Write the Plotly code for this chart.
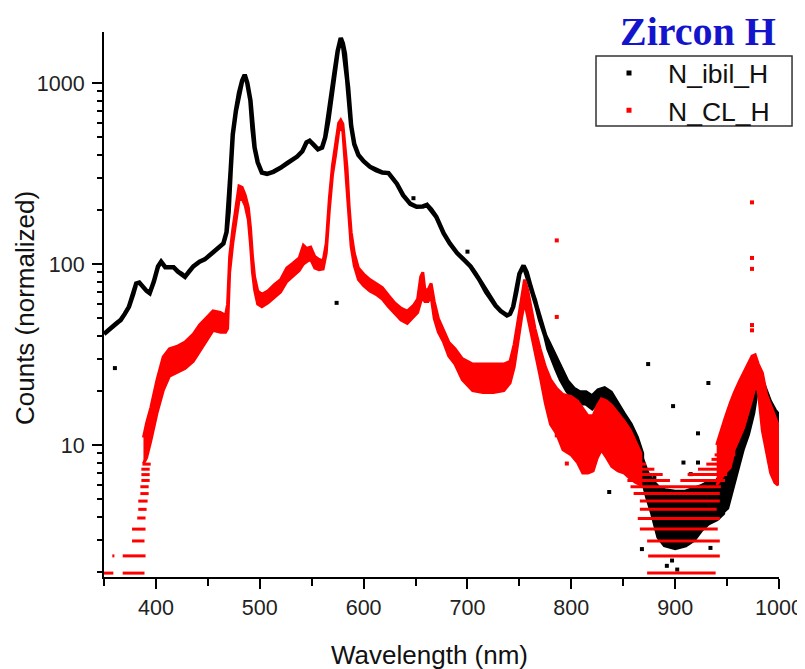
import plotly.graph_objects as go

# ---------------- data ----------------
# N_ibil_H (black): wavelength, upper and lower extent of the plotted points
ibil_wl = [350, 354, 358, 362, 366, 370, 374, 378, 381, 384, 387, 391, 394, 398, 402, 405, 409, 413, 417,
           421, 425, 428, 432, 436, 442, 447, 452, 458, 465, 468, 470, 472, 474, 477, 480, 483, 485.5, 488,
           491, 493, 495, 498, 502, 507, 513, 520, 526, 531, 536, 541, 545, 548, 552, 556, 560, 563, 566,
           569, 572, 575, 578, 580, 582, 585, 588, 591, 595, 600, 606, 612, 618, 624, 628, 632, 638, 645,
           651, 657, 661, 665, 670, 677, 683, 690, 697, 703, 708, 712, 718, 722, 727, 732, 738, 741, 744,
           747, 750, 754, 757, 760, 765, 770, 775,
           778, 782, 786, 790, 796, 802, 808, 814, 820, 826, 832, 838, 844, 850, 857, 863, 868]
ibil_hi = [41, 43, 45, 47, 49, 53, 58, 68, 78, 79, 75, 71, 69, 80, 97, 103, 96, 96, 96,
           91, 88, 85, 91, 97, 103, 106, 112, 121, 130, 150, 195, 330, 520, 700, 880, 1030, 1110, 1000,
           800, 560, 440, 365, 320, 315, 323, 340, 360, 378, 392, 420, 470, 480, 455, 430, 440, 500, 620,
           850, 1150, 1500, 1770, 1650, 1450, 950, 580, 460, 400, 370, 345, 330, 320, 318, 300, 278, 240, 215,
           207, 208, 212, 200, 182, 148, 130, 115, 105, 97, 88, 81, 70, 65, 59, 55, 52, 53, 58,
           70, 88, 98, 90, 78, 63, 49, 40,
           37, 33, 29, 26, 22.5, 20.5, 19.5, 19.5, 18.5, 20, 20.5, 19.5, 17, 15, 13, 11, 9]
ibil_lo = [41, 43, 45, 47, 49, 53, 58, 68, 78, 79, 75, 71, 69, 80, 97, 103, 96, 96, 96,
           91, 88, 85, 91, 97, 103, 106, 112, 121, 130, 150, 195, 330, 520, 700, 880, 1030, 1110, 1000,
           800, 560, 440, 365, 320, 315, 323, 340, 360, 378, 392, 420, 470, 480, 455, 430, 440, 500, 620,
           850, 1150, 1500, 1770, 1650, 1450, 950, 580, 460, 400, 370, 345, 330, 320, 318, 300, 278, 240, 215,
           207, 208, 212, 200, 182, 148, 130, 115, 105, 97, 88, 81, 70, 65, 59, 55, 52, 53, 58,
           70, 88, 98, 90, 78, 63, 49, 40,
           34, 29.5, 26, 23, 20, 18, 17, 17, 16, 17.5, 18, 17, 15, 13, 11, 9, 7.5]
# the scattered cloud of black points near the minimum
ibil_cloud_wl = [866, 873, 878, 884, 890, 900, 910, 918, 925, 932, 940, 946]
ibil_cloud_hi = [9, 7, 6.3, 5.8, 5.6, 5.5, 5.5, 5.7, 5.9, 6.2, 6.3, 7]
ibil_cloud_lo = [7.5, 5.2, 4.2, 3.1, 2.8, 2.7, 2.8, 3.0, 3.4, 3.7, 3.9, 4.2]
# the last peak
ibil_tail_wl = [944, 950, 955, 960, 965, 970, 975, 979, 982, 986, 991, 996, 1000]
ibil_tail_hi = [7, 8, 9.5, 11, 13.5, 16, 20, 26, 24, 21, 17.5, 15.5, 14.5]
ibil_tail_lo = [4.2, 4.5, 6, 7.5, 9.5, 11.5, 15, 21, 19, 16.5, 14, 12.5, 12]
ibil_stray_wl = [360.5, 574, 648, 700, 874, 932, 898, 922, 908, 922, 836.5, 868, 934, 892, 902, 897,
                 880, 915]
ibil_stray_val = [26.6, 61, 231, 117, 28, 22, 16.4, 11.6, 8, 8, 5.5, 2.66, 2.7, 2.15, 2.05, 2.3,
                  6.6, 6.9]

# N_CL_H (red): two continuous parts of the band
cl_wl_a = [388, 391, 395, 401, 407, 413, 420, 428, 436, 442, 448, 455, 462, 467, 469, 471, 474, 477, 480,
           483, 486, 489, 491, 493, 495, 498, 502, 508, 514, 520, 526, 532, 538, 542, 545, 549, 553, 557,
           561, 564, 567, 570, 573, 576, 578, 580, 582, 584, 586, 588, 591, 595, 600, 606, 612, 618, 624,
           630, 636, 642, 648, 652, 655, 657, 659, 662, 665, 668, 672, 677, 682, 688, 695, 705, 715, 725,
           735, 741, 745, 749, 752, 755, 758, 761, 765, 770, 775, 780, 786, 792, 800, 806, 811, 816, 821,
           825, 829, 834, 839, 845, 851, 857, 862, 867]
cl_hi_a = [11, 13.2, 16, 22.8, 30.7, 34, 35, 37, 41, 46, 50, 55, 54, 52, 60, 110, 155, 200, 270,
           265, 240, 205, 160, 110, 85, 71, 68, 71, 77, 82, 95, 101, 108, 127, 122, 124, 110, 106,
           104, 130, 230, 350, 450, 600, 625, 595, 450, 340, 210, 150, 115, 95, 88, 82, 78, 74, 67,
           61, 57, 55, 59, 64, 85, 90, 72, 72, 78, 62, 50, 43, 37, 34, 30, 28, 28, 28,
           28, 29, 36, 50, 65, 82, 72, 58, 44, 34, 27, 23, 20.5, 19, 18.5, 17.5, 16, 14.5, 14.5,
           16.5, 18, 17.5, 16.5, 15, 13.5, 12, 10.5, 9]
cl_lo_a = [7.9, 8.5, 10.5, 15, 20, 24, 25, 26.5, 29, 33, 37, 43, 42, 42, 44, 90, 130, 170, 225,
           230, 210, 175, 130, 90, 72, 60, 58, 61, 65, 70, 80, 86, 92, 100, 103, 106, 95, 93,
           94, 115, 200, 310, 400, 540, 570, 540, 390, 290, 180, 125, 98, 82, 76, 71, 68, 64, 58,
           53, 49, 47, 51, 54, 62, 65, 62, 62, 66, 50, 42, 37, 31, 28, 23, 20, 19.5, 19.5,
           20, 22, 27, 38, 50, 62, 52, 44, 33, 24, 17, 13, 11.5, 9.4, 8.8, 8, 7, 7, 7.2,
           8.5, 9.4, 8.5, 7.6, 7.2, 7, 6.5, 6.2, 6]
cl_wl_b = [940, 944, 948, 953, 957, 962, 966, 970, 974, 977, 980, 984, 988, 992, 996, 999]
cl_hi_b = [10, 12, 14, 17, 19.5, 22.5, 25, 28, 31, 31.5, 28, 25, 19, 16.5, 14.5, 13]
cl_lo_b = [6, 6.5, 7, 7.5, 9.5, 11, 12.5, 15, 18, 21, 20, 12, 9, 7, 6.2, 6]
# rows of points at the lowest count levels (level, from, to)
cl_row_level = [1.96, 1.96, 2.44, 2.44, 2.95, 3.43, 3.95, 4.41, 4.9, 5.39, 5.88, 6.37, 6.86, 7.35, 7.84,
                1.96, 2.44, 2.95, 3.43, 3.92, 4.41, 4.9, 5.39, 5.88, 6.37, 6.37, 6.86, 6.86, 7.35, 7.35,
                7.84, 7.84, 8.33, 8.33, 8.82, 8.82]
cl_row_from = [350, 368, 358, 368, 377, 377, 382, 383, 383, 385, 385, 386, 386, 386, 387,
               873, 874, 873, 866, 864, 866, 866, 860, 857, 854, 905, 852, 912, 850, 922,
               848, 930, 845, 935, 843, 938]
cl_row_to = [359, 389, 360, 390, 389, 390, 390, 391, 392, 393, 393, 394, 394, 394, 395,
             939, 943, 943, 941, 943, 940, 943, 943, 944, 895, 948, 888, 950, 880, 952,
             872, 954, 866, 956, 862, 958]
cl_stray_wl = [786, 786, 974, 974, 974, 974, 974, 795.7, 786]
cl_stray_val = [135, 51, 219, 108, 94, 46, 43, 7.9, 11.3]

x_major = [400, 500, 600, 700, 800, 900, 1000]
x_minor = [350, 450, 550, 650, 750, 850, 950]
y_major = [10, 100, 1000]
y_labels = ["10", "100", "1000"]
y_minor = [2, 3, 4, 5, 6, 7, 8, 9, 20, 30, 40, 50, 60, 70, 80, 90, 200, 300, 400, 500, 600, 700, 800, 900]

BLACK = "#000000"
RED = "#ff0000"


def polygon(wl, hi, lo):
    return list(wl) + list(wl)[::-1], list(hi) + list(lo)[::-1]


def rows(levels, starts, ends):
    xs, ys = [], []
    for lv, s, e in zip(levels, starts, ends):
        xs += [s, e, None]
        ys += [lv, lv, None]
    return xs, ys


fig = go.Figure()

mx, my = polygon(ibil_wl, ibil_hi, ibil_lo)
kx, ky = polygon(ibil_cloud_wl, ibil_cloud_hi, ibil_cloud_lo)
tx, ty = polygon(ibil_tail_wl, ibil_tail_hi, ibil_tail_lo)
fig.add_trace(go.Scatter(x=mx + [None] + kx + [None] + tx, y=my + [None] + ky + [None] + ty,
                         mode="lines", fill="toself", fillcolor=BLACK,
                         line=dict(color=BLACK, width=4.5), showlegend=False, hoverinfo="skip"))
fig.add_trace(go.Scatter(x=ibil_stray_wl, y=ibil_stray_val, mode="markers",
                         marker=dict(symbol="square", size=4, color=BLACK), showlegend=False))

ax, ay = polygon(cl_wl_a, cl_hi_a, cl_lo_a)
cx, cy = polygon(cl_wl_b, cl_hi_b, cl_lo_b)
fig.add_trace(go.Scatter(x=ax + [None] + cx, y=ay + [None] + cy, mode="lines", fill="toself",
                         fillcolor=RED, line=dict(color=RED, width=3), showlegend=False,
                         hoverinfo="skip"))
rx, ry = rows(cl_row_level, cl_row_from, cl_row_to)
fig.add_trace(go.Scatter(x=rx, y=ry, mode="lines", line=dict(color=RED, width=3),
                         showlegend=False, hoverinfo="skip"))
fig.add_trace(go.Scatter(x=cl_stray_wl, y=cl_stray_val, mode="markers",
                         marker=dict(symbol="square", size=4, color=RED), showlegend=False))

# legend entries
fig.add_trace(go.Scatter(x=[None], y=[None], mode="markers", name="N_ibil_H",
                         marker=dict(symbol="square", size=5, color=BLACK)))
fig.add_trace(go.Scatter(x=[None], y=[None], mode="markers", name="N_CL_H",
                         marker=dict(symbol="square", size=5, color=RED)))

axis_font = dict(family="Liberation Sans, Arial, sans-serif", size=21.5, color="#222222")

# the page adds an 8px body margin, so the figure is 8px smaller than the window
fig.update_layout(
    width=797, height=661,
    margin=dict(l=96, r=26, t=24, b=92, autoexpand=False),
    paper_bgcolor="white", plot_bgcolor="white",
    font=dict(family="Liberation Sans, Arial, sans-serif", color="#111111"),
    xaxis=dict(range=[350, 1000], showline=True, linecolor="black", linewidth=2,
               ticks="outside", ticklen=10, tickwidth=2, tickcolor="black",
               tickmode="array", tickvals=x_major, ticktext=[str(v) for v in x_major],
               tickfont=axis_font, showgrid=False, zeroline=False,
               minor=dict(tickmode="array", tickvals=x_minor, ticks="outside", ticklen=7,
                          tickwidth=2, tickcolor="black", showgrid=False)),
    yaxis=dict(type="log", range=[0.2707, 3.2818], showline=True, linecolor="black", linewidth=2,
               ticks="outside", ticklen=10, tickwidth=2, tickcolor="black",
               tickmode="array", tickvals=y_major, ticktext=y_labels, tickfont=axis_font,
               ticklabelstandoff=3, showgrid=False, zeroline=False,
               minor=dict(tickmode="array", tickvals=y_minor, ticks="outside", ticklen=5,
                          tickwidth=1.5, tickcolor="black", showgrid=False)),
    legend=dict(x=0.720, y=0.9685, xanchor="left", yanchor="top", itemwidth=68,
                bgcolor="rgba(0,0,0,0)", borderwidth=0,
                font=dict(family="Liberation Sans, Arial, sans-serif", size=26.5, color="#111111")),
    showlegend=True,
)

fig.add_shape(type="rect", xref="paper", yref="paper", x0=0.7289, x1=1.0193, y0=0.8275, y1=0.956,
              line=dict(color="#333333", width=1.5))

fig.add_annotation(text="<b>Zircon H</b>", xref="paper", yref="paper", x=0.8807, y=1.044,
                   xanchor="center", yanchor="top", showarrow=False, borderpad=0,
                   font=dict(family="Liberation Serif, Times New Roman, serif", size=40, color="#1414cc"))
fig.add_annotation(text="Wavelength (nm)", xref="paper", yref="paper", x=0.4815, y=-0.1431,
                   xanchor="center", yanchor="middle", showarrow=False,
                   font=dict(family="Liberation Sans, Arial, sans-serif", size=26, color="#111111"))
fig.add_annotation(text="Counts (normalized)", xref="paper", yref="paper", x=-0.117, y=0.4936,
                   xanchor="center", yanchor="middle", showarrow=False, textangle=-90,
                   font=dict(family="Liberation Sans, Arial, sans-serif", size=26, color="#111111"))

fig.write_html("out.html")
